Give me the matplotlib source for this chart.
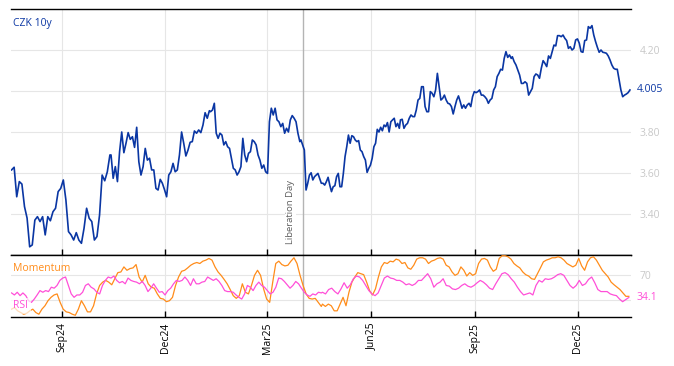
import numpy as np
import pandas as pd
import matplotlib
matplotlib.use("Agg")
import matplotlib.pyplot as plt
import matplotlib.dates as mdates
import matplotlib.transforms as mtrans

plt.rcParams['font.family'] = ['Open Sans', 'DejaVu Sans']

czk_date = [("2024-07-18", "2024-10-13"), ("2024-10-14", "2025-01-09"),
            ("2025-01-10", "2025-03-30"), ("2025-03-31", "2025-06-26"),
            ("2025-06-27", "2025-10-03"), ("2025-10-04", "2026-01-16")]

czk_1 = [3.615, 3.628, 3.484, 3.558, 3.546, 3.436, 3.38, 3.24, 3.249, 3.37,
         3.387, 3.363, 3.387, 3.298, 3.387, 3.367, 3.411, 3.428, 3.509, 3.525,
         3.566, 3.468, 3.314, 3.298, 3.273, 3.309, 3.273, 3.257, 3.330, 3.428,
         3.379, 3.363, 3.273, 3.29, 3.395, 3.59, 3.562, 3.606, 3.688]
czk_2 = [3.688, 3.574, 3.631, 3.558, 3.704, 3.80, 3.699, 3.745, 3.797, 3.764,
         3.777, 3.725, 3.823, 3.655, 3.59, 3.631, 3.72, 3.663, 3.672, 3.615,
         3.615, 3.525, 3.517, 3.569, 3.55, 3.519, 3.484, 3.59, 3.606, 3.647,
         3.606, 3.615, 3.688, 3.80, 3.745, 3.683, 3.712, 3.75, 3.753, 3.805,
         3.794, 3.81, 3.797, 3.834, 3.894, 3.867, 3.904]
czk_3 = [3.899, 3.907, 3.94, 3.794, 3.769, 3.794, 3.785, 3.737, 3.753, 3.728,
         3.72, 3.672, 3.623, 3.615, 3.59, 3.606, 3.631, 3.769, 3.688, 3.655,
         3.696, 3.704, 3.761, 3.753, 3.737, 3.688, 3.663, 3.623, 3.639, 3.606,
         3.598, 3.85, 3.916, 3.883, 3.916, 3.859, 3.85, 3.826, 3.842, 3.794,
         3.818, 3.80, 3.859, 3.88, 3.867, 3.85, 3.794, 3.753]
czk_4 = [3.761, 3.737, 3.712, 3.517, 3.55, 3.59, 3.601, 3.566, 3.582, 3.59,
         3.598, 3.574, 3.55, 3.55, 3.541, 3.558, 3.579, 3.541, 3.509, 3.533,
         3.538, 3.582, 3.598, 3.533, 3.533, 3.598, 3.68, 3.728, 3.785, 3.745,
         3.782, 3.777, 3.761, 3.753, 3.758, 3.712, 3.704, 3.68, 3.663, 3.603,
         3.623, 3.639, 3.672, 3.728, 3.745, 3.813, 3.80, 3.823, 3.806, 3.834,
         3.826, 3.846, 3.80, 3.85, 3.859, 3.867, 3.826, 3.842, 3.818]
czk_5 = [3.859, 3.862, 3.818, 3.834, 3.842, 3.867, 3.883, 3.875, 3.875, 3.907,
         3.956, 3.964, 4.021, 4.021, 3.924, 3.899, 3.899, 3.997, 3.989, 3.972,
         4.005, 4.086, 4.021, 3.956, 3.964, 3.980, 3.956, 3.94, 3.937, 3.924,
         3.888, 3.924, 3.956, 3.976, 3.948, 3.916, 3.932, 3.916, 3.932, 3.94,
         3.924, 3.972, 3.997, 3.992, 3.997, 4.005, 3.98, 3.98, 3.972, 3.961,
         3.94, 3.956, 3.964, 4.005, 4.021, 4.07, 4.086, 4.106, 4.102, 4.159,
         4.192, 4.164, 4.176, 4.159]
czk_6 = [4.167, 4.143, 4.127, 4.102, 4.078, 4.037, 4.037, 4.045, 4.037, 3.98,
         3.997, 4.013, 4.07, 4.083, 4.078, 4.062, 4.111, 4.148, 4.135, 4.119,
         4.171, 4.159, 4.192, 4.224, 4.220, 4.27, 4.27, 4.265, 4.273, 4.257,
         4.246, 4.208, 4.216, 4.20, 4.208, 4.249, 4.254, 4.233, 4.192, 4.189,
         4.246, 4.249, 4.314, 4.306, 4.319, 4.273, 4.241, 4.213, 4.189, 4.20,
         4.189, 4.187, 4.184, 4.171, 4.151, 4.127, 4.111, 4.106, 4.106, 4.054,
         4.005, 3.972, 3.98, 3.985, 3.992, 4.005]

# --- Momentum e RSI (scala 0-100) ---
osc_date = [("2024-07-18", "2025-04-18"), ("2025-04-19", "2026-01-15")]

mom_1 = [15.2, 17.9, 12.5, 9.7, 7.0, 8.6, 12.5, 15.2, 9.7, 7.0, 15.2, 20.7,
         28.9, 34.4, 38.2, 39.9, 26.2, 15.2, 10.8, 9.7, 7.0, 5.3, 15.2, 28.9,
         20.7, 10.8, 10.8, 20.7, 39.9, 53.6, 59.0, 61.8, 59.0, 54.7, 64.5, 74.4,
         75.5, 83.7, 78.2, 81.0, 82.1, 87.5, 67.3, 59.0, 70.0, 56.3, 50.8, 49.2,
         39.9, 32.7, 31.6, 27.3, 28.9, 34.4, 53.6, 67.3, 76.6, 78.2, 82.1, 86.4,
         89.2, 90.8, 89.2, 93.0, 94.7, 97.4, 94.7, 83.7, 75.5, 70.0, 63.4, 56.3,
         47.0, 37.1, 32.7, 37.1, 56.3, 42.6, 39.9, 53.6, 70.0, 78.2, 70.0, 48.1,
         31.6, 26.2, 59.0, 89.2, 93.0, 87.5, 85.3, 86.4, 93.0, 98.5, 89.2, 70.0,
         53.6, 39.9, 32.7, 31.6, 32.7, 26.2, 19.6]
mom_2 = [23.4, 19.6, 23.4, 20.7, 12.5, 12.5, 23.4, 34.4, 20.7, 42.6, 59.0, 67.3,
         74.4, 72.7, 71.1, 59.0, 45.3, 38.2, 48.1, 67.3, 83.7, 90.8, 89.2, 93.0,
         91.9, 96.3, 94.7, 89.2, 90.8, 82.1, 79.9, 86.4, 96.3, 98.5, 98.5, 96.3,
         89.2, 93.0, 94.7, 97.4, 98.5, 96.3, 86.4, 83.7, 75.5, 70.0, 72.7, 83.7,
         78.2, 68.9, 74.4, 70.0, 72.7, 89.2, 96.3, 97.4, 94.7, 83.7, 76.6, 79.9,
         97.4, 101.8, 101.8, 100.1, 96.3, 89.2, 85.3, 82.1, 75.5, 71.1, 68.9, 64.5,
         63.4, 72.7, 82.1, 91.9, 94.7, 96.3, 98.5, 98.5, 100.1, 98.5, 94.7, 89.2,
         86.4, 83.7, 86.4, 97.4, 85.3, 78.2, 91.9, 98.5, 100.1, 94.7, 86.4, 78.2,
         72.7, 67.3, 59.0, 54.7, 50.8, 47.0, 41.5, 36.0, 36.0]

rsi_1 = [41.5, 38.2, 42.6, 37.1, 41.5, 37.1, 28.9, 26.2, 31.6, 38.2, 45.3, 42.6,
         45.3, 43.7, 50.8, 49.2, 53.6, 61.8, 65.6, 67.3, 53.6, 39.9, 34.4, 38.2,
         38.2, 42.6, 53.6, 56.3, 50.8, 48.1, 42.6, 39.9, 53.6, 61.8, 67.3, 65.6,
         68.9, 61.8, 58.0, 60.1, 56.3, 65.6, 61.8, 60.1, 59.0, 56.3, 60.1, 53.6,
         43.7, 49.2, 56.3, 49.2, 42.6, 43.7, 38.2, 45.3, 49.2, 56.3, 61.8, 60.1,
         61.8, 67.3, 61.8, 53.6, 64.5, 56.3, 56.3, 59.0, 60.1, 67.3, 64.5, 61.8,
         64.5, 60.1, 53.6, 45.3, 43.7, 43.7, 42.6, 38.2, 34.4, 31.6, 39.9, 53.6,
         50.8, 45.3, 53.6, 59.0, 53.6, 50.8, 45.3, 39.9, 42.6, 50.8, 65.6, 64.5,
         60.1, 54.7, 49.2, 53.6, 60.1, 56.3, 49.2, 42.6, 38.2, 36.0, 39.9, 38.2,
         42.6, 41.5]
rsi_2 = [42.6, 39.9, 47.0, 49.2, 43.7, 39.9, 48.1, 58.0, 49.2, 54.7, 64.5, 68.9,
         67.3, 61.8, 53.6, 45.3, 39.9, 37.1, 41.5, 53.6, 65.6, 68.9, 65.6, 64.5,
         61.8, 61.8, 59.0, 54.7, 56.3, 53.6, 56.3, 61.8, 61.8, 67.3, 72.7, 64.5,
         50.8, 56.3, 59.0, 64.5, 53.6, 52.5, 48.1, 47.0, 49.2, 53.6, 56.3, 52.5,
         50.8, 53.6, 58.0, 61.8, 59.0, 54.7, 49.2, 47.0, 56.3, 64.5, 72.7, 74.4,
         71.1, 64.5, 59.0, 50.8, 43.7, 38.2, 39.9, 41.5, 38.2, 53.6, 61.8, 59.0,
         64.5, 63.4, 64.5, 67.3, 71.1, 72.7, 70.0, 61.8, 53.6, 49.2, 53.6, 61.8,
         53.6, 56.3, 63.4, 67.3, 58.0, 47.0, 43.7, 43.7, 43.7, 39.9, 38.2, 37.1,
         31.6, 27.3, 30.6, 34.1]

liberation_day = pd.Timestamp("2025-04-02")

BLU = '#0a36a3'
ARANCIO = '#ff8c1a'
MAGENTA = '#ff4fd8'
GRIGIO = '#c8c8c8'


def serie(date, valori):
    xs, ys = [], []
    for (d0, d1), v in zip(date, valori):
        xs.append(pd.date_range(d0, d1, periods=len(v)))
        ys.extend(v)
    return np.concatenate(xs), np.array(ys)


x_czk, y_czk = serie(czk_date, [czk_1, czk_2, czk_3, czk_4, czk_5, czk_6])
x_mom, y_mom = serie(osc_date, [mom_1, mom_2])
x_rsi, y_rsi = serie(osc_date, [rsi_1, rsi_2])

fig = plt.figure(figsize=(6.74, 3.66), dpi=100)
ax = fig.add_axes([0.0163, 0.3033, 0.920, 0.6721])
ax2 = fig.add_axes([0.0163, 0.1339, 0.920, 0.1694], sharex=ax)

xmin, xmax = pd.Timestamp("2024-07-17 12:00"), pd.Timestamp("2026-01-17")

for a in (ax, ax2):
    for s in ('left', 'right'):
        a.spines[s].set_visible(False)
    a.spines['top'].set_linewidth(1)
    a.spines['bottom'].set_linewidth(1)
    a.grid(True, color='#e6e6e6', linewidth=0.8)
    a.set_axisbelow(True)
    a.yaxis.tick_right()
    a.tick_params(axis='y', length=0, pad=6, labelcolor=GRIGIO, labelsize=7.5)
    a.tick_params(axis='x', direction='in', length=4, width=1, color='black')
    a.axvline(liberation_day, color='#b4b4b4', linewidth=1, zorder=1)

# pannello principale
ax.plot(x_czk, y_czk, color=BLU, linewidth=1.2, zorder=3)
ax.set_xlim(xmin, xmax)
ax.set_ylim(3.2, 4.4)
ax.set_yticks([3.4, 3.6, 3.8, 4.0, 4.2])
ax.set_yticklabels(['3.40', '3.60', '3.80', '', '4.20'])
ax.tick_params(axis='x', labelbottom=False)
ax.text(0.004, 0.94, 'CZK 10y', transform=ax.transAxes, color=BLU,
        fontsize=7.5, ha='left', va='center')
tr = mtrans.blended_transform_factory(ax.transAxes, ax.transData)
ax.text(1.009, y_czk[-1], f'{y_czk[-1]:.3f}', transform=tr, color=BLU,
        fontsize=7.5, ha='left', va='center')
ax.annotate('Liberation Day', xy=(liberation_day, 3.255), xytext=(-6, 0),
            textcoords='offset points', rotation=90, ha='right', va='bottom',
            fontsize=6.8, color='#606060',
            bbox=dict(facecolor='white', edgecolor='none', pad=0.5))

# pannello oscillatori
ax2.plot(x_mom, y_mom, color=ARANCIO, linewidth=0.9, zorder=3)
ax2.plot(x_rsi, y_rsi, color=MAGENTA, linewidth=0.9, zorder=3)
ax2.set_ylim(2.5, 103)
ax2.set_yticks([30, 70])
ax2.set_yticklabels(['', '70'])
tr2 = mtrans.blended_transform_factory(ax2.transAxes, ax2.transData)
ax2.text(1.009, y_rsi[-1], f'{y_rsi[-1]:.1f}', transform=tr2, color=MAGENTA,
         fontsize=7.5, ha='left', va='center')
ax2.text(0.004, 0.78, 'Momentum', transform=ax2.transAxes, color=ARANCIO,
         fontsize=7.5, ha='left', va='center', zorder=5)
ax2.text(0.004, 0.18, 'RSI', transform=ax2.transAxes, color=MAGENTA,
         fontsize=7.5, ha='left', va='center', zorder=5,
         bbox=dict(facecolor='white', edgecolor='none', alpha=0.7,
                   boxstyle='square,pad=0.25'))
ax2.xaxis.set_major_locator(mdates.MonthLocator(bymonth=[3, 6, 9, 12]))
ax2.xaxis.set_major_formatter(mdates.DateFormatter('%b%y'))
ax2.tick_params(axis='x', labelrotation=90, labelsize=7.5, labelcolor='black', pad=4)

fig.savefig('out.png', dpi=100)
